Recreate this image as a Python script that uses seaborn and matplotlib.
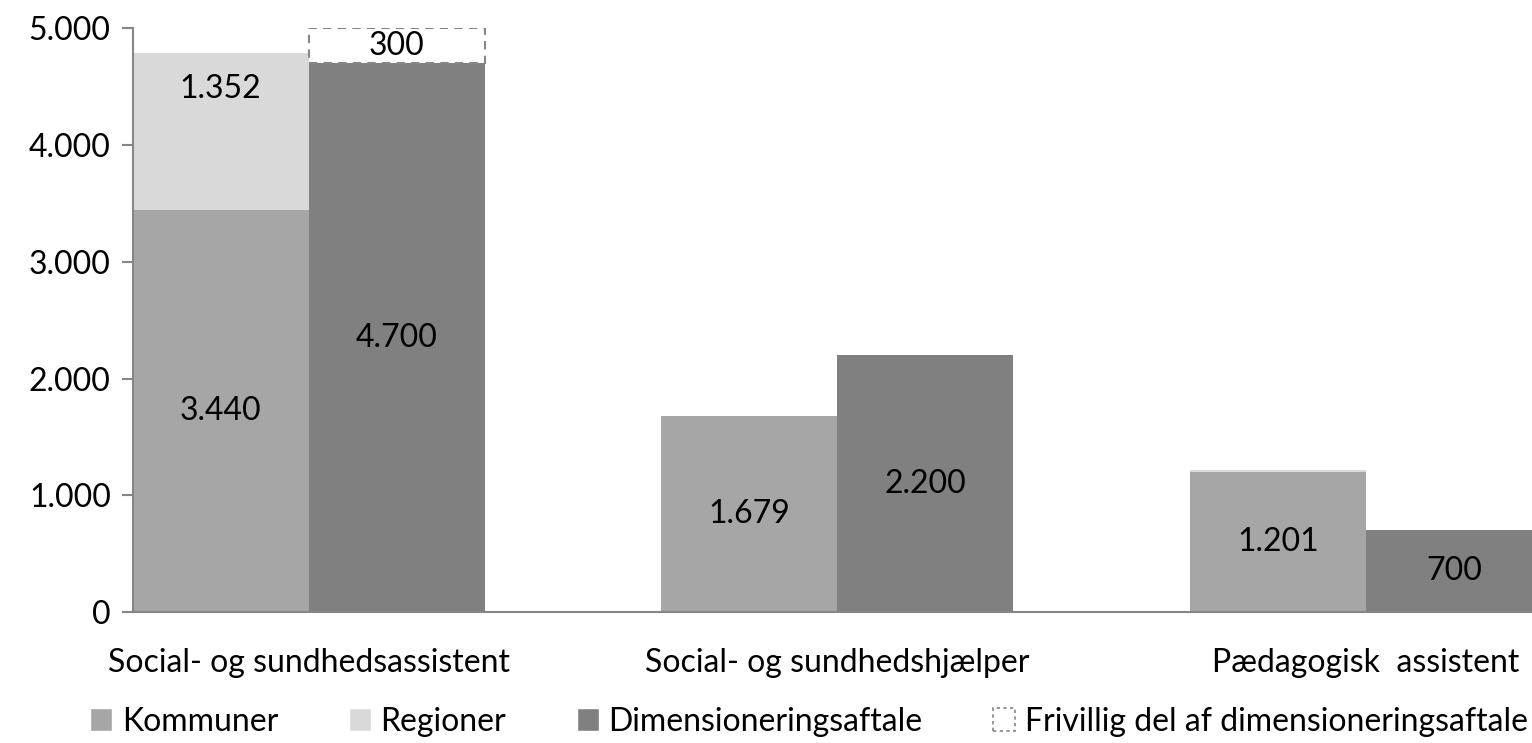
"""
Stacked bar chart: Kommuner/Regioner vs. Dimensioneringsaftale
"""

import numpy as np
import matplotlib.pyplot as plt
import seaborn as sns
from matplotlib.patches import Patch
from matplotlib.ticker import FuncFormatter, MultipleLocator

# Data
categories = ['Social- og sundhedsassistent', 'Social- og sundhedshjælper', 'Pædagogisk  assistent']
kommuner = [3440, 1679, 1201]
regioner = [1352, 0, 15]
dimensionering = [4700, 2200, 700]
frivillig = [300, 0, 0]

# Style
sns.set_theme(style="white")
plt.rcParams['font.family'] = ['Lato', 'DejaVu Sans']
plt.rcParams['text.color'] = 'black'
plt.rcParams['xtick.color'] = 'black'
plt.rcParams['ytick.color'] = 'black'

c_kom = '#a6a6a6'
c_reg = '#d9d9d9'
c_dim = '#808080'
c_axis = '#868686'
fs = 23
width = 0.333

fig = plt.figure(figsize=(15.32, 7.43), dpi=100)
ax = fig.add_axes([0.0868, 0.176, 0.9132, 0.786])

x = np.arange(len(categories))
left = x - width / 2
right = x + width / 2

ax.bar(left, kommuner, width=width, color=c_kom, linewidth=0, label='Kommuner')
ax.bar(left, regioner, width=width, bottom=kommuner, color=c_reg, linewidth=0, label='Regioner')
ax.bar(right, dimensionering, width=width, color=c_dim, linewidth=0, label='Dimensioneringsaftale')
friv_x = [xi for xi, v in zip(right, frivillig) if v > 0]
friv_v = [v for v in frivillig if v > 0]
friv_b = [d for d, v in zip(dimensionering, frivillig) if v > 0]
ax.bar(friv_x, friv_v, width=width, bottom=friv_b, facecolor='white',
       edgecolor=c_axis, linestyle=(0, (4, 3)), linewidth=1.5,
       label='Frivillig del af dimensioneringsaftale')


def fmt(v):
    return f'{v:,.0f}'.replace(',', '.')


# Value labels
for i in range(len(categories)):
    ax.text(left[i], kommuner[i] / 2, fmt(kommuner[i]), ha='center', va='center', fontsize=fs)
    if regioner[i] > 100:
        ax.text(left[i], kommuner[i] + regioner[i] * 0.77, fmt(regioner[i]),
                ha='center', va='center', fontsize=fs)
    ax.text(right[i], dimensionering[i] / 2, fmt(dimensionering[i]), ha='center', va='center', fontsize=fs)
    if frivillig[i] > 0:
        ax.text(right[i], dimensionering[i] + frivillig[i] / 2, fmt(frivillig[i]),
                ha='center', va='center', fontsize=fs)

ax.set_xlim(-0.332, 2.314)
ax.set_ylim(0, 5000)
ax.yaxis.set_major_locator(MultipleLocator(1000))
ax.yaxis.set_major_formatter(FuncFormatter(lambda v, p: fmt(v)))
ax.set_xticks(x)
ax.set_xticklabels(categories)
ax.tick_params(axis='y', labelsize=fs, length=8, width=1.5, color=c_axis, direction='out', pad=8, left=True)
ax.tick_params(axis='x', labelsize=fs, length=0, pad=26)

for s in ['top', 'right']:
    ax.spines[s].set_visible(False)
for s in ['left', 'bottom']:
    ax.spines[s].set_color(c_axis)
    ax.spines[s].set_linewidth(1.5)

handles = [
    Patch(facecolor=c_kom, label='Kommuner'),
    Patch(facecolor=c_reg, label='Regioner'),
    Patch(facecolor=c_dim, label='Dimensioneringsaftale'),
    Patch(facecolor='white', edgecolor=c_axis, linestyle=(0, (2, 2)), linewidth=1.2,
          label='Frivillig del af dimensioneringsaftale'),
]
fig.legend(handles=handles, loc='lower center', bbox_to_anchor=(0.528, -0.03), ncol=4,
           frameon=False, fontsize=fs, handlelength=0.7, handleheight=0.7,
           handletextpad=0.3, columnspacing=2.2)

fig.savefig('out.png', dpi=100)
